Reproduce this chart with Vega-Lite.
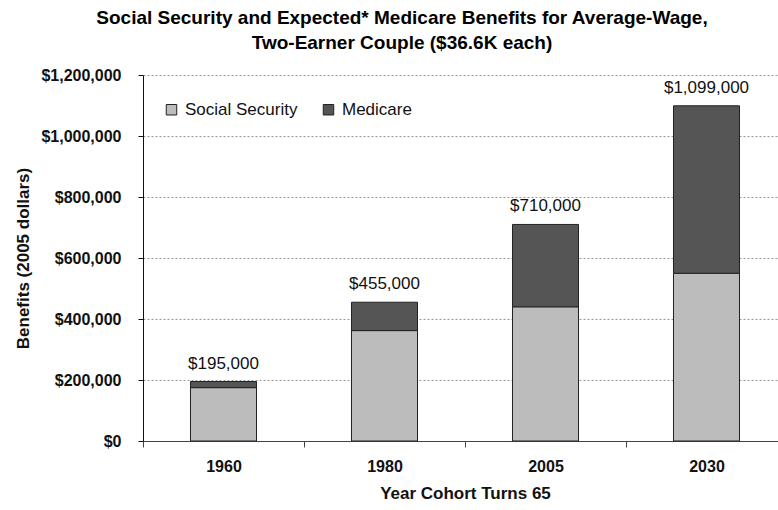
{
  "$schema": "https://vega.github.io/schema/vega-lite/v6.json",
  "autosize": "none",
  "padding": {"left": 143, "top": 75, "right": 0, "bottom": 69},
  "width": 644,
  "height": 366,
  "background": "white",
  "title": {
    "text": ["Social Security and Expected* Medicare Benefits for Average-Wage,", "Two-Earner Couple ($36.6K each)"],
    "font": "Liberation Sans",
    "fontSize": 19,
    "fontWeight": "bold",
    "color": "#000",
    "anchor": "middle",
    "frame": "group",
    "dx": -63,
    "lineHeight": 25,
    "offset": 14
  },
  "config": {
    "view": {"stroke": null},
    "font": "Liberation Sans"
  },
  "data": {
    "values": [
      {"year": "1960", "type": "Social Security", "benefit": 175000},
      {"year": "1960", "type": "Medicare", "benefit": 20000},
      {"year": "1980", "type": "Social Security", "benefit": 362000},
      {"year": "1980", "type": "Medicare", "benefit": 93000},
      {"year": "2005", "type": "Social Security", "benefit": 440000},
      {"year": "2005", "type": "Medicare", "benefit": 270000},
      {"year": "2030", "type": "Social Security", "benefit": 550000},
      {"year": "2030", "type": "Medicare", "benefit": 549000}
    ]
  },
  "encoding": {
    "x": {
      "field": "year",
      "type": "nominal",
      "scale": {"paddingInner": 0.59, "paddingOuter": 0.295},
      "axis": {
        "title": "Year Cohort Turns 65",
        "titleFont": "Liberation Sans",
        "titleFontSize": 17,
        "titleFontWeight": "bold",
        "titleColor": "#111",
        "titlePadding": 11,
        "labelAngle": 0,
        "labelFont": "Liberation Sans",
        "labelFontSize": 16,
        "labelFontWeight": "bold",
        "labelColor": "#111",
        "labelPadding": 11,
        "tickOffset": -80.5,
        "labelOffset": 80.5,
        "tickSize": 6,
        "tickColor": "#444",
        "domainColor": "#444",
        "grid": false
      }
    }
  },
  "layer": [
    {
      "mark": {"type": "bar", "stroke": "#222", "strokeWidth": 1},
      "encoding": {
        "y": {
          "field": "benefit",
          "type": "quantitative",
          "stack": "zero",
          "scale": {"domain": [0, 1200000]},
          "axis": {
            "title": "Benefits (2005 dollars)",
            "titleFont": "Liberation Sans",
            "titleFontSize": 17,
            "titleFontWeight": "bold",
            "titleColor": "#111",
            "titlePadding": 8,
            "format": "$,d",
            "values": [0, 200000, 400000, 600000, 800000, 1000000, 1200000],
            "labelFont": "Liberation Sans",
            "labelFontSize": 16,
            "labelFontWeight": "bold",
            "labelColor": "#111",
            "labelPadding": 17,
            "tickSize": 5,
            "tickColor": "#111",
            "domainColor": "#111",
            "gridColor": "#999",
            "gridDash": [2, 2],
            "gridWidth": 1
          }
        },
        "color": {
          "field": "type",
          "type": "nominal",
          "sort": ["Social Security", "Medicare"],
          "scale": {"domain": ["Social Security", "Medicare"], "range": ["#bcbcbc", "#555555"]},
          "legend": {
            "title": null,
            "orient": "none",
            "legendX": 20,
            "legendY": 26,
            "direction": "horizontal",
            "symbolType": "square",
            "symbolSize": 110,
            "symbolStrokeColor": "#222",
            "symbolStrokeWidth": 1,
            "labelFont": "Liberation Sans",
            "labelFontSize": 17,
            "labelColor": "#111",
            "labelOffset": 5,
            "columnPadding": 22
          }
        },
        "order": {"field": "type", "sort": "descending"}
      }
    },
    {
      "transform": [
        {"aggregate": [{"op": "sum", "field": "benefit", "as": "total"}], "groupby": ["year"]}
      ],
      "mark": {"type": "text", "dy": -18, "font": "Liberation Sans", "fontSize": 17, "color": "#111"},
      "encoding": {
        "y": {"field": "total", "type": "quantitative"},
        "text": {"field": "total", "type": "quantitative", "format": "$,d"}
      }
    }
  ]
}
